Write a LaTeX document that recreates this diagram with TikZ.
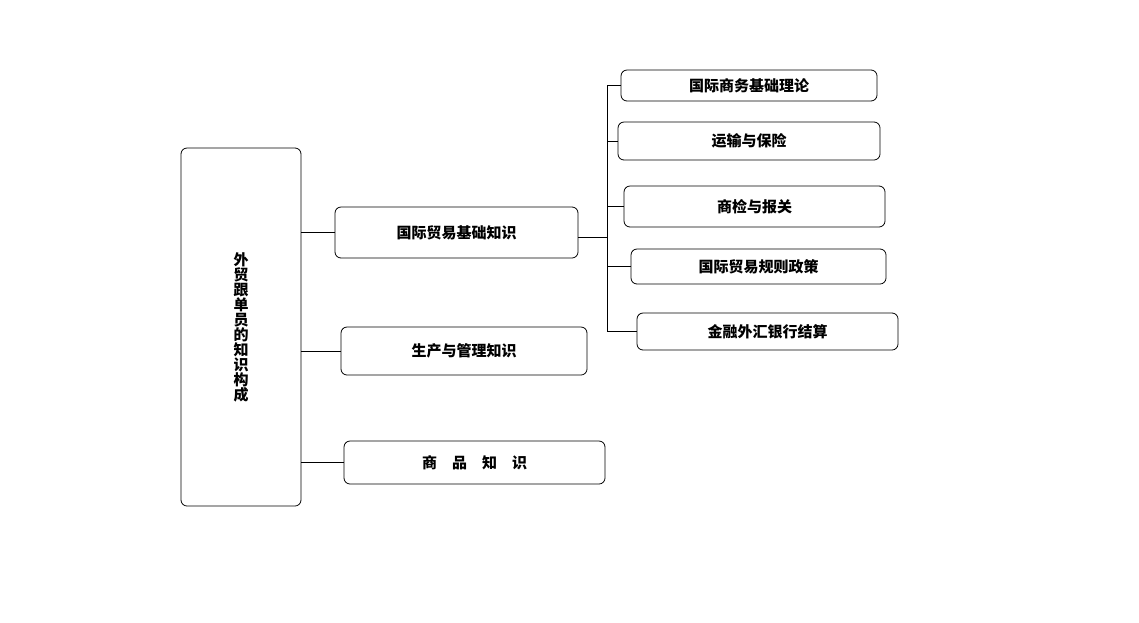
\documentclass[tikz,border=0pt]{standalone}
\usepackage{fontspec}
\newfontfamily\cjk{Noto Sans CJK SC}
\usetikzlibrary{positioning}
\tikzset{
  box/.style={draw, rounded corners=6pt, thick, font=\cjk\bfseries\fontsize{15}{18}\selectfont},
  link/.style={thick}
}
\begin{document}
\begin{tikzpicture}[x=1pt,y=-1pt]
  \useasboundingbox (0,0) rectangle (1139,622);
  % main column
  \node[box, minimum width=120pt, minimum height=358pt, align=center] (main) at (241,327)
    {\parbox{1.2em}{\centering 外\\[-3pt]贸\\[-3pt]跟\\[-3pt]单\\[-3pt]员\\[-3pt]的\\[-3pt]知\\[-3pt]识\\[-3pt]构\\[-3pt]成}};
  % second level
  \node[box, minimum width=243pt, minimum height=51pt] (basic) at (456.5,232.5) {国际贸易基础知识};
  \node[box, minimum width=246pt, minimum height=48pt] (prod) at (464,351) {生产与管理知识};
  \node[box, minimum width=261pt, minimum height=43pt] (goods) at (474.5,462.5) {商\quad 品\quad 知\quad 识};
  % third level
  \node[box, minimum width=256pt, minimum height=31pt] (theory) at (749,85.5) {国际商务基础理论};
  \node[box, minimum width=262pt, minimum height=38pt] (trans) at (749,141) {运输与保险};
  \node[box, minimum width=261pt, minimum height=41pt] (insp) at (754.5,206.5) {商检与报关};
  \node[box, minimum width=255pt, minimum height=35pt] (rule) at (758.5,266.5) {国际贸易规则政策};
  \node[box, minimum width=261pt, minimum height=37pt] (fin) at (767.5,331.5) {金融外汇银行结算};
  % connectors
  \foreach \n in {basic,prod,goods}
    \draw[link] (main.east |- \n.west) -- (\n.west);
  \coordinate (bus) at (607,237);
  \draw[link] (basic.east |- bus) -- (bus);
  \draw[link] (theory.west -| bus) -- (fin.west -| bus);
  \foreach \n in {theory,trans,insp,rule,fin}
    \draw[link] (\n.west -| bus) -- (\n.west);
\end{tikzpicture}
\end{document}
